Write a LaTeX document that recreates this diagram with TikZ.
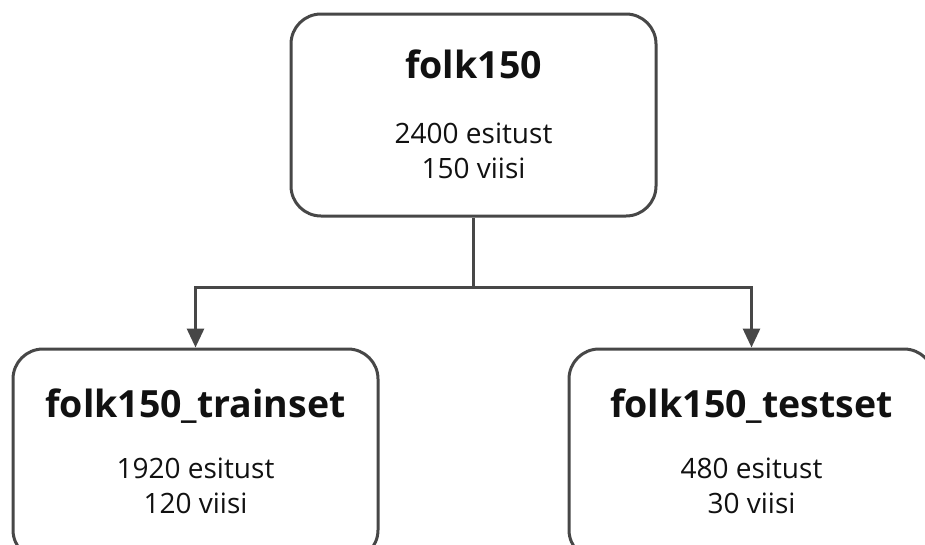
\documentclass[tikz,border=0pt]{standalone}
\usepackage{fontspec}
\setmainfont{Open Sans}
\usetikzlibrary{arrows.meta}
\definecolor{ln}{HTML}{474747}
\definecolor{tx}{HTML}{111111}
\tikzset{
  box/.style={draw=ln, line width=3pt, rounded corners=30pt, minimum width=365pt, inner sep=0pt, fill=white},
  ttl/.style={anchor=base, text=tx, font=\fontsize{37.5}{40}\selectfont\bfseries, inner sep=0pt},
  bdy/.style={anchor=base, text=tx, font=\fontsize{28}{30}\selectfont, inner sep=0pt},
  conn/.style={draw=ln, line width=3pt, -{Triangle[length=19pt,width=17pt]}}
}
\begin{document}
\begin{tikzpicture}[x=1pt,y=-1pt]
\useasboundingbox (0,0) rectangle (925,544);
\clip (0,0) rectangle (925,544);
\node[box, minimum height=202pt] (top) at (473.5,115) {};
\node[box, minimum height=211pt] (left) at (195.5,454.5) {};
\node[box, minimum height=211pt] (right) at (751.5,454.5) {};
\node[ttl] (t1) at (473.5,78) {folk150};
\node[bdy] (t2) at (473.5,143) {2400 esitust};
\node[bdy] (t3) at (473.5,178) {150 viisi};
\node[ttl] (l1) at (195.5,417) {folk150\_trainset};
\node[bdy] (l2) at (195.5,478) {1920 esitust};
\node[bdy] (l3) at (195.5,513) {120 viisi};
\node[ttl] (r1) at (751.5,417) {folk150\_testset};
\node[bdy] (r2) at (751.5,478) {480 esitust};
\node[bdy] (r3) at (751.5,513) {30 viisi};
\coordinate (j) at (473.5,287);
\draw[draw=ln, line width=3pt] (top.south) -- (j);
\draw[conn] (j) -| (left.north);
\draw[conn] (j) -| (right.north);
\end{tikzpicture}
\end{document}
